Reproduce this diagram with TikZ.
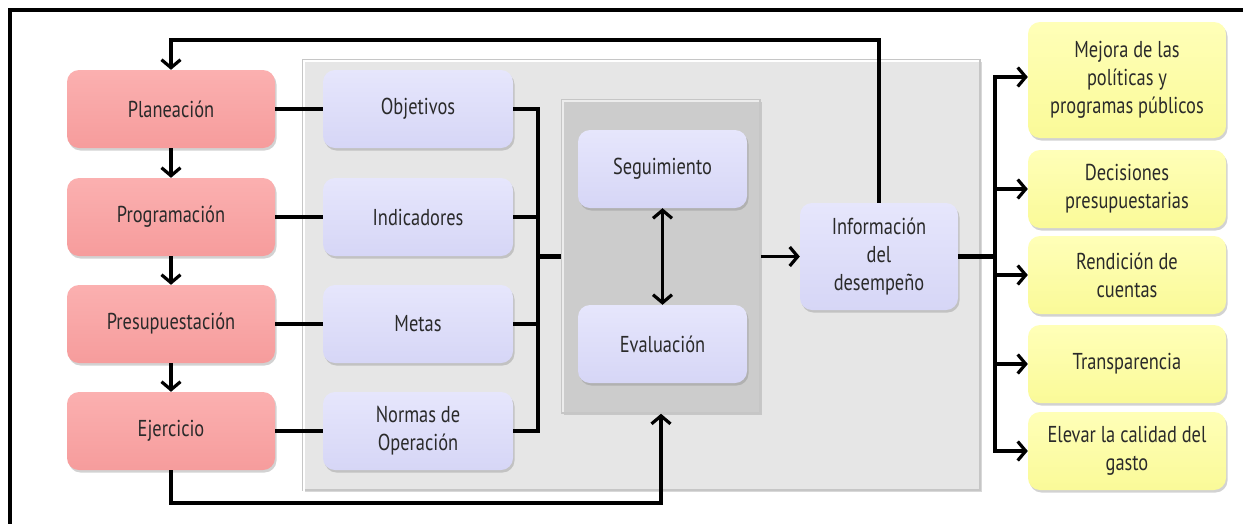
\documentclass[tikz,border=0pt]{standalone}
\usepackage{fontspec}
\setmainfont{PT Sans}[FakeStretch=0.8]
\usetikzlibrary{arrows.meta,shadows}
\definecolor{redtop}{HTML}{FBB0B0}
\definecolor{redbot}{HTML}{F69C9C}
\definecolor{bluetop}{HTML}{E6E6FC}
\definecolor{bluebot}{HTML}{D6D6F6}
\definecolor{yeltop}{HTML}{FFFFB8}
\definecolor{yelbot}{HTML}{FAFA98}
\definecolor{panelA}{HTML}{E6E6E6}
\definecolor{panelB}{HTML}{CCCCCC}
\definecolor{txt}{HTML}{2A2A2A}
\begin{document}
\begin{tikzpicture}[x=1pt,y=-1pt,
  box/.style={rounded corners=12pt, minimum height=78pt, align=center, inner sep=2pt,
    font=\fontsize{23}{28}\selectfont, text=txt,
    drop shadow={opacity=0.35,shadow xshift=1.5pt,shadow yshift=-2.5pt}},
  redb/.style={box, minimum width=208pt, top color=redtop, bottom color=redbot},
  blueb/.style={box, minimum width=190pt, top color=bluetop, bottom color=bluebot},
  evb/.style={box, minimum width=169pt, top color=bluetop, bottom color=bluebot},
  yelb/.style={box, minimum width=198pt, top color=yeltop, bottom color=yelbot},
  panel/.style={minimum width=#1, inner sep=0pt, draw=gray!45, line width=1.5pt,
    drop shadow={opacity=0.3,shadow xshift=2pt,shadow yshift=-2pt}},
  conn/.style={line width=3.2pt},
  bus/.style={line width=5.5pt},
  arr/.style={line width=3.2pt, -{Straight Barb[length=8pt,width=19pt]}},
  darr/.style={line width=3.2pt, {Straight Barb[length=8pt,width=19pt]}-{Straight Barb[length=8pt,width=19pt]}}
]
\useasboundingbox (0,0) rectangle (1243,523);
\fill[white] (0,0) rectangle (1243,523);
% outer frame
\draw[line width=3.5pt] (10,540) -- (10,10) -- (1260,10);

% panels
\node[panel=677pt, minimum height=430pt, fill=panelA] (outer) at (641.5,275) {};
\draw[white, line width=2pt] (304,492) -- (304,61) -- (979,61);
\node[panel=198pt, minimum height=313pt, fill=panelB] (inner) at (661,256.5) {};
\draw[white!85!gray, line width=2pt] (563,412) -- (563,101) -- (759,101);

% left red column
\node[redb] (plan) at (171,109) {Planeación};
\node[redb] (prog) at (171,217) {Programación};
\node[redb] (pres) at (171,324) {Presupuestación};
\node[redb] (ejer) at (171,431) {Ejercicio};

% blue column
\node[blueb] (obj) at (418,109) {Objetivos};
\node[blueb] (ind) at (418,217) {Indicadores};
\node[blueb] (met) at (418,324) {Metas};
\node[blueb] (nor) at (418,431) {Normas de\\Operación};

% inner boxes
\node[evb] (seg) at (662.5,169) {Seguimiento};
\node[evb] (eva) at (662.5,344) {Evaluación};

% info
\node[box, minimum width=158pt, minimum height=107pt, top color=bluetop, bottom color=bluebot] (info) at (879,256.5) {Información\\del\\desempeño};

% yellow column
\node[yelb, minimum height=116pt] (mej) at (1127,80) {Mejora de las\\políticas y\\programas públicos};
\node[yelb] (dec) at (1127,189) {Decisiones\\presupuestarias};
\node[yelb] (ren) at (1127,275) {Rendición de\\cuentas};
\node[yelb] (tra) at (1127,364) {Transparencia};
\node[yelb] (ele) at (1127,451) {Elevar la calidad  del\\gasto};

% red vertical arrows
\draw[arr] (plan.south) -- (prog.north);
\draw[arr] (prog.south) -- (pres.north);
\draw[arr] (pres.south) -- (ejer.north);

% red to blue
\draw[conn] (plan.east) -- (obj.west);
\draw[conn] (prog.east) -- (ind.west);
\draw[conn] (pres.east) -- (met.west);
\draw[conn] (ejer.east) -- (nor.west);

% blue to bus
\coordinate (bx) at (538,256.5);
\draw[conn] (obj.east) -| (bx);
\draw[conn] (ind.east) -| (bx);
\draw[conn] (met.east) -| (bx);
\draw[conn] (nor.east) -| (bx);
\draw[bus] ([xshift=-1.5pt]bx) -- (inner.west |- bx);

% seguimiento <-> evaluacion
\draw[darr] (seg.south) -- (eva.north);

% ejercicio feedback
\coordinate (bot) at (171,503);
\draw[arr] (ejer.south) -- (bot) -| (inner.south);

% inner to info
\draw[arr] (inner.east) -- (info.west);

% info feedback to planeacion
\coordinate (topl) at (171,40);
\draw[arr] (info.north) |- (topl) -- (plan.north);

% info to outputs
\coordinate (rb) at (995,256.5);
\draw[bus] (info.east) -- ([xshift=1.5pt]rb);
\draw[arr] (rb) |- ([yshift=3pt]mej.west);
\draw[arr] (rb) |- (dec.west);
\draw[arr] (rb) |- (ren.west);
\draw[arr] (rb) |- (tra.west);
\draw[arr] (rb) |- (ele.west);
\end{tikzpicture}
\end{document}
